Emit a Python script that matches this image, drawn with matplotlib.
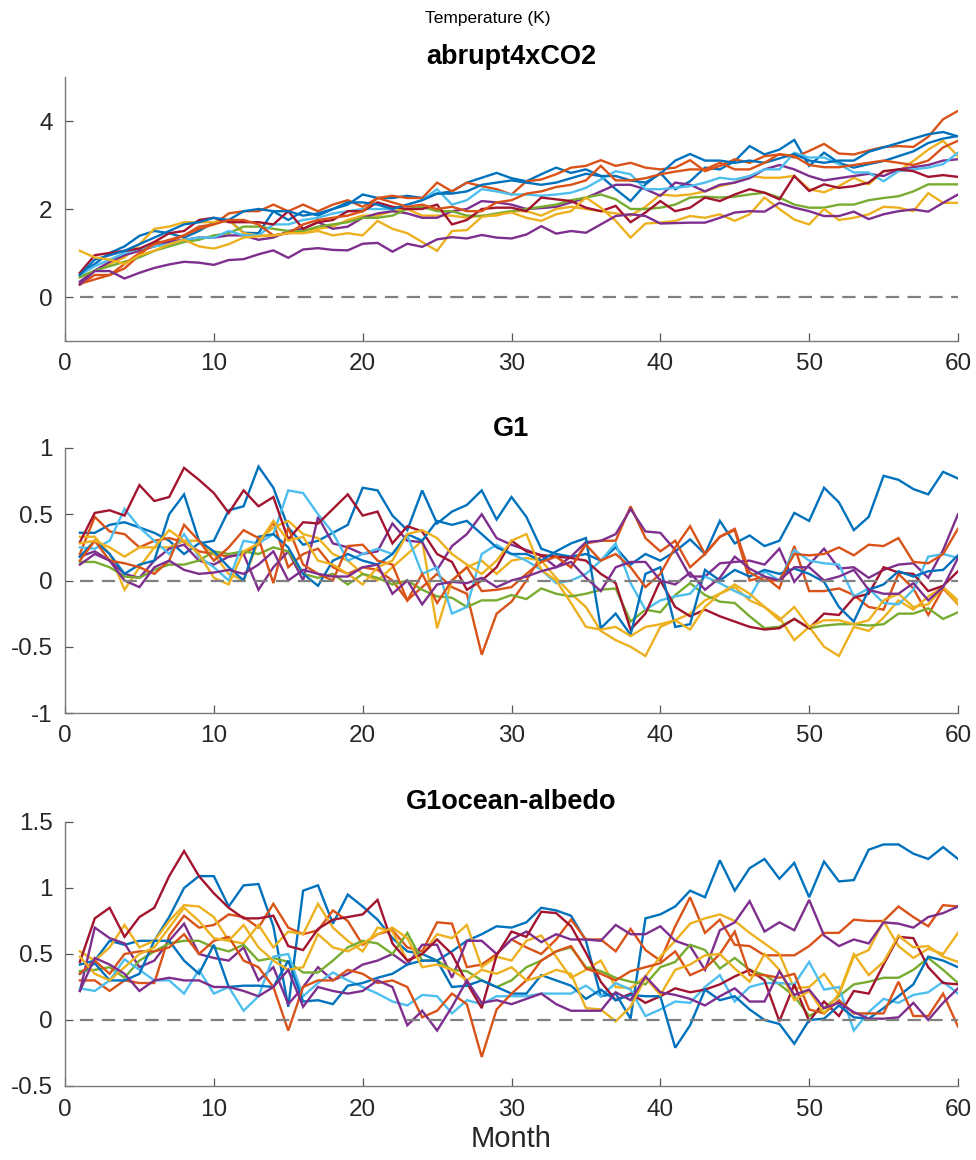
import numpy as np
import matplotlib
matplotlib.use('Agg')
import matplotlib.pyplot as plt

plt.rcParams['font.family'] = ['Liberation Sans', 'DejaVu Sans']

months = np.arange(1, 61)

# MATLAB default colour order (11 models -> cycles once)
colors = ['#0072BD', '#D95319', '#EDB120', '#7E2F8E', '#77AC30', '#4DBEEE',
          '#A2142F', '#0072BD', '#D95319', '#EDB120', '#7E2F8E']

# ---- abrupt4xCO2 ----
a4x_blue1 = [0.51, 0.75, 1.0, 1.15, 1.39, 1.5, 1.45, 1.35, 1.5, 1.7,
             1.75, 1.46, 1.45, 1.95, 1.75, 1.95, 1.85, 2.0, 2.1, 2.33,
             2.25, 2.25, 2.3, 2.25, 2.35, 2.4, 2.6, 2.71, 2.82, 2.7,
             2.63, 2.79, 2.94, 2.82, 2.9, 2.75, 2.45, 2.18, 2.56, 2.82,
             2.45, 2.63, 2.94, 2.9, 3.09, 3.43, 3.24, 3.35, 3.57, 2.98,
             3.28, 3.05, 2.94, 3.02, 3.09, 3.2, 3.31, 3.5, 3.6, 3.66]
a4x_orange1 = [0.3, 0.4, 0.5, 0.65, 0.95, 1.25, 1.25, 1.4, 1.6, 1.65,
               1.9, 1.95, 1.95, 2.1, 1.95, 2.1, 1.95, 2.1, 2.2, 2.05,
               2.25, 2.3, 2.25, 2.25, 2.6, 2.4, 2.6, 2.52, 2.45, 2.33,
               2.63, 2.67, 2.79, 2.94, 2.98, 3.11, 2.98, 3.05, 2.94, 2.9,
               2.94, 3.11, 2.86, 2.98, 3.13, 3.05, 3.2, 3.24, 3.17, 3.32,
               3.48, 3.26, 3.24, 3.33, 3.41, 3.43, 3.41, 3.64, 4.04, 4.23]
a4x_yellow1 = [0.45, 0.6, 0.75, 0.9, 1.2, 1.55, 1.6, 1.7, 1.7, 1.7,
               1.75, 1.45, 1.4, 1.4, 1.45, 1.5, 1.55, 1.6, 1.75, 1.85,
               1.85, 1.95, 2.0, 1.85, 1.85, 1.85, 1.8, 1.85, 1.85, 1.95,
               1.95, 1.85, 2.0, 2.05, 2.0, 1.95, 1.9, 1.85, 2.05, 2.33,
               2.3, 2.33, 2.4, 2.52, 2.6, 2.75, 2.71, 2.71, 2.75, 2.45,
               2.38, 2.52, 2.71, 2.56, 2.86, 2.86, 3.09, 3.35, 3.55, 3.2]
a4x_purple1 = [0.35, 0.6, 0.8, 0.95, 1.05, 1.15, 1.25, 1.3, 1.35, 1.35,
               1.4, 1.4, 1.3, 1.35, 1.5, 1.55, 1.7, 1.55, 1.6, 1.8,
               1.9, 1.95, 1.9, 1.8, 1.8, 1.95, 2.0, 2.18, 2.15, 2.1,
               2.0, 2.02, 2.05, 2.15, 2.25, 2.4, 2.55, 2.55, 2.45, 2.3,
               2.6, 2.55, 2.4, 2.55, 2.6, 2.7, 2.9, 3.0, 2.9, 2.75,
               2.65, 2.7, 2.75, 2.8, 2.75, 2.9, 2.95, 3.0, 3.1, 3.13]
a4x_green = [0.45, 0.6, 0.7, 0.8, 0.9, 1.05, 1.15, 1.25, 1.3, 1.4,
             1.45, 1.6, 1.6, 1.55, 1.5, 1.5, 1.6, 1.65, 1.7, 1.8,
             1.8, 1.85, 2.0, 2.05, 1.95, 1.95, 1.85, 1.84, 1.9, 1.95,
             2.0, 2.05, 2.1, 2.2, 2.26, 2.33, 2.22, 2.0, 2.0, 2.03,
             2.1, 2.26, 2.28, 2.26, 2.28, 2.33, 2.37, 2.26, 2.1, 2.03,
             2.03, 2.1, 2.1, 2.2, 2.25, 2.29, 2.4, 2.56, 2.56, 2.56]
a4x_lightblue = [0.5, 0.7, 0.85, 1.0, 1.1, 1.15, 1.2, 1.3, 1.35, 1.35,
                 1.5, 1.4, 1.4, 1.65, 1.65, 1.75, 1.8, 1.9, 1.95, 2.0,
                 2.0, 2.0, 2.1, 2.2, 2.45, 2.1, 2.2, 2.45, 2.4, 2.33,
                 2.33, 2.3, 2.33, 2.37, 2.48, 2.67, 2.86, 2.79, 2.45, 2.45,
                 2.48, 2.52, 2.6, 2.71, 2.67, 2.75, 2.9, 2.9, 3.28, 3.17,
                 3.17, 3.02, 2.83, 2.83, 2.63, 2.86, 2.9, 2.94, 3.02, 3.28]
a4x_darkred = [0.55, 0.95, 1.0, 1.05, 1.1, 1.25, 1.45, 1.5, 1.75, 1.8,
               1.7, 1.7, 1.7, 1.65, 1.95, 1.55, 1.7, 1.75, 1.95, 1.95,
               2.15, 2.05, 2.0, 2.0, 2.1, 1.65, 1.75, 2.0, 2.03, 2.03,
               1.95, 2.26, 2.22, 2.18, 2.03, 1.95, 2.07, 1.7, 1.92, 2.18,
               1.95, 2.03, 2.26, 2.18, 2.33, 2.45, 2.37, 2.22, 2.75, 2.41,
               2.56, 2.48, 2.52, 2.6, 2.86, 2.9, 2.86, 2.73, 2.77, 2.73]
a4x_blue2 = [0.5, 0.85, 0.95, 1.05, 1.2, 1.35, 1.5, 1.65, 1.7, 1.8,
             1.75, 1.95, 2.0, 1.95, 1.95, 1.85, 1.9, 2.0, 2.15, 2.15,
             2.1, 2.0, 2.1, 2.2, 2.35, 2.35, 2.4, 2.55, 2.6, 2.65,
             2.6, 2.55, 2.6, 2.7, 2.8, 2.75, 2.75, 2.65, 2.6, 2.8,
             3.1, 3.25, 3.1, 3.1, 3.05, 3.1, 3.05, 3.15, 3.25, 3.1,
             3.05, 3.1, 3.1, 3.3, 3.4, 3.5, 3.6, 3.7, 3.75, 3.65]
a4x_orange2 = [0.28, 0.5, 0.5, 0.75, 1.0, 1.2, 1.3, 1.4, 1.55, 1.65,
               1.75, 1.75, 1.65, 1.4, 1.45, 1.65, 1.75, 1.8, 1.85, 1.95,
               2.25, 2.15, 2.05, 2.1, 2.0, 2.05, 1.95, 1.95, 2.15, 2.2,
               2.35, 2.4, 2.5, 2.55, 2.65, 2.98, 2.65, 2.65, 2.7, 2.79,
               2.85, 2.9, 2.9, 3.05, 2.9, 2.9, 3.05, 3.25, 3.2, 3.0,
               2.95, 2.95, 3.0, 3.05, 3.1, 3.05, 3.0, 3.1, 3.4, 3.55]
a4x_yellow2 = [1.05, 0.9, 0.85, 0.75, 0.95, 1.05, 1.2, 1.3, 1.15, 1.1,
               1.2, 1.35, 1.38, 1.4, 1.45, 1.45, 1.5, 1.4, 1.45, 1.4,
               1.73, 1.55, 1.45, 1.25, 1.05, 1.5, 1.52, 1.82, 1.87, 1.92,
               1.8, 1.73, 1.88, 1.95, 2.26, 2.03, 1.73, 1.35, 1.67, 1.69,
               1.73, 1.84, 1.8, 1.88, 1.73, 1.88, 2.26, 2.0, 1.76, 1.65,
               2.0, 1.75, 1.8, 1.88, 2.05, 2.03, 1.95, 2.36, 2.14, 2.14]
a4x_purple2 = [0.29, 0.59, 0.59, 0.42, 0.55, 0.66, 0.74, 0.8, 0.78, 0.73,
               0.84, 0.86, 0.97, 1.06, 0.89, 1.08, 1.11, 1.07, 1.06, 1.21,
               1.23, 1.03, 1.21, 1.14, 1.31, 1.36, 1.33, 1.41, 1.35, 1.33,
               1.42, 1.61, 1.44, 1.5, 1.46, 1.65, 1.84, 1.88, 1.84, 1.67,
               1.68, 1.69, 1.69, 1.8, 1.92, 1.95, 1.94, 2.14, 2.03, 1.95,
               1.84, 1.84, 1.94, 1.77, 1.88, 1.95, 1.99, 1.94, 2.14, 2.33]

# ---- G1 ----
g1_blue1 = [0.36, 0.36, 0.42, 0.44, 0.4, 0.36, 0.3, 0.2, 0.28, 0.3,
            0.53, 0.56, 0.86, 0.7, 0.4, 0.27, 0.3, 0.36, 0.42, 0.7,
            0.68, 0.49, 0.38, 0.68, 0.43, 0.52, 0.57, 0.68, 0.46, 0.63,
            0.48, 0.24, 0.2, 0.18, 0.2, 0.15, 0.25, 0.12, 0.2, 0.15,
            0.22, 0.31, 0.2, 0.45, 0.28, 0.34, 0.26, 0.3, 0.51, 0.45,
            0.7, 0.59, 0.38, 0.48, 0.79, 0.76, 0.69, 0.65, 0.82, 0.77]
g1_orange1 = [0.2, 0.48, 0.37, 0.35, 0.25, 0.3, 0.32, 0.29, 0.22, 0.2,
              0.18, 0.2, 0.27, 0.44, 0.1, 0.2, 0.24, 0.1, 0.05, 0.1,
              0.08, 0.0, -0.15, -0.05, 0.05, -0.05, -0.1, -0.56, -0.25, -0.16,
              0.0, 0.19, 0.18, 0.1, 0.28, 0.3, 0.3, 0.56, 0.32, 0.22,
              0.3, 0.1, 0.2, 0.33, 0.38, 0.0, 0.03, -0.06, 0.26, -0.08,
              -0.08, -0.06, -0.11, -0.2, -0.22, 0.05, -0.06, -0.26, -0.06, -0.18]
g1_yellow1 = [0.33, 0.33, 0.2, -0.07, 0.1, 0.25, 0.25, 0.3, 0.3, 0.2,
              0.05, 0.0, 0.3, 0.4, 0.45, 0.35, 0.32, 0.2, 0.15, 0.05,
              0.0, 0.1, 0.2, 0.3, -0.36, 0.0, 0.1, 0.15, 0.05, 0.15,
              0.17, 0.15, 0.02, -0.1, -0.2, -0.38, -0.45, -0.5, -0.57, -0.35,
              -0.3, -0.25, -0.15, -0.1, -0.05, -0.15, -0.2, -0.28, -0.45, -0.35,
              -0.5, -0.57, -0.35, -0.38, -0.28, -0.15, -0.22, -0.12, -0.05, -0.18]
g1_purple1 = [0.18, 0.22, 0.15, 0.05, 0.02, 0.15, 0.24, 0.27, 0.15, 0.12,
              0.18, 0.2, -0.07, 0.1, 0.22, 0.0, 0.48, 0.28, 0.25, 0.2,
              0.22, 0.43, 0.3, 0.29, 0.08, 0.26, 0.35, 0.5, 0.32, 0.27,
              0.23, 0.19, 0.1, 0.18, 0.29, 0.3, 0.35, 0.54, 0.37, 0.36,
              0.23, 0.03, 0.03, 0.13, 0.14, 0.15, 0.12, 0.24, -0.01, 0.12,
              0.24, 0.09, 0.1, 0.02, 0.08, 0.12, 0.13, 0.02, 0.23, 0.5]
g1_green = [0.14, 0.14, 0.1, 0.03, 0.02, 0.08, 0.12, 0.12, 0.15, 0.22,
            0.2, 0.22, 0.2, 0.25, 0.22, 0.05, 0.02, 0.05, -0.03, 0.05,
            0.02, -0.03, 0.0, -0.07, -0.12, -0.13, -0.2, -0.15, -0.15, -0.11,
            -0.14, -0.06, -0.1, -0.12, -0.1, -0.07, -0.06, -0.31, -0.22, -0.24,
            -0.11, -0.02, -0.11, -0.16, -0.17, -0.27, -0.36, -0.35, -0.29, -0.36,
            -0.34, -0.33, -0.33, -0.34, -0.33, -0.25, -0.25, -0.21, -0.29, -0.24]
g1_lightblue = [0.25, 0.24, 0.3, 0.54, 0.4, 0.3, 0.2, 0.35, 0.18, 0.1,
                0.0, 0.3, 0.28, 0.35, 0.68, 0.66, 0.5, 0.36, 0.15, 0.2,
                0.24, 0.2, 0.34, 0.05, 0.1, -0.25, -0.2, 0.2, 0.27, 0.2,
                0.15, 0.08, -0.02, 0.0, 0.05, 0.15, 0.28, -0.02, -0.22, -0.15,
                -0.12, -0.1, 0.03, -0.02, -0.08, -0.13, 0.07, 0.0, 0.23, 0.15,
                0.13, 0.12, -0.12, -0.06, -0.17, -0.18, -0.07, 0.18, 0.2, 0.17]
g1_darkred = [0.29, 0.51, 0.53, 0.49, 0.72, 0.6, 0.63, 0.85, 0.76, 0.66,
              0.51, 0.68, 0.56, 0.63, 0.31, 0.44, 0.43, 0.54, 0.65, 0.49,
              0.52, 0.28, 0.41, 0.37, 0.2, 0.14, -0.07, 0.0, 0.1, 0.3,
              0.22, 0.19, 0.18, 0.17, 0.15, 0.05, -0.02, -0.37, -0.25, 0.0,
              -0.2, -0.27, -0.22, -0.27, -0.31, -0.35, -0.37, -0.36, -0.29, -0.36,
              -0.25, -0.26, -0.13, -0.1, 0.1, 0.06, 0.05, -0.08, -0.04, 0.07]
g1_blue2 = [0.18, 0.3, 0.2, 0.05, 0.12, 0.15, 0.5, 0.65, 0.3, 0.22,
            0.1, 0.0, 0.33, 0.35, 0.25, 0.05, -0.04, 0.15, 0.2, 0.15,
            0.12, 0.2, 0.35, 0.3, 0.45, 0.42, 0.45, 0.35, 0.25, 0.2,
            0.2, 0.15, 0.22, 0.28, 0.32, -0.36, -0.25, -0.41, 0.05, 0.1,
            -0.35, -0.33, 0.08, 0.0, 0.08, 0.03, 0.08, 0.05, 0.09, 0.05,
            -0.01, -0.2, -0.31, -0.07, -0.03, 0.07, 0.03, 0.07, 0.08, 0.19]
g1_orange2 = [0.15, 0.3, 0.15, 0.13, 0.1, 0.05, 0.15, 0.42, 0.3, 0.15,
              0.25, 0.38, 0.32, -0.02, 0.4, 0.12, 0.05, 0.0, 0.26, 0.27,
              0.15, 0.12, -0.15, 0.05, -0.17, 0.0, 0.1, -0.08, -0.07, -0.05,
              0.05, 0.14, 0.18, 0.1, 0.27, 0.15, 0.2, 0.1, -0.05, 0.05,
              0.25, 0.41, 0.2, 0.33, 0.39, 0.06, 0.0, 0.0, 0.2, 0.19,
              0.2, 0.25, 0.19, 0.27, 0.26, 0.32, 0.14, 0.13, 0.2, 0.39]
g1_yellow2 = [0.28, 0.3, 0.25, 0.18, 0.25, 0.25, 0.38, 0.3, 0.2, 0.02,
              -0.03, 0.22, 0.28, 0.45, 0.3, 0.33, 0.15, 0.12, 0.05, -0.03,
              0.1, 0.15, 0.35, 0.38, 0.32, 0.2, 0.12, 0.05, 0.15, 0.3,
              0.35, 0.08, 0.0, -0.17, -0.35, -0.37, -0.35, -0.42, -0.35, -0.33,
              -0.3, -0.37, -0.2, -0.1, -0.03, -0.1, -0.2, -0.3, -0.2, -0.35,
              -0.3, -0.3, -0.33, -0.3, -0.15, -0.1, -0.2, -0.18, -0.05, -0.15]
g1_purple2 = [0.12, 0.2, 0.15, 0.0, -0.05, 0.1, 0.15, 0.08, 0.05, 0.06,
              0.08, 0.05, 0.12, 0.22, 0.0, 0.08, 0.05, 0.03, 0.03, 0.1,
              0.12, -0.1, 0.0, -0.18, -0.03, -0.01, -0.02, 0.02, -0.05, 0.0,
              0.03, 0.07, 0.1, 0.14, 0.02, -0.08, 0.1, 0.14, 0.14, 0.0,
              -0.03, 0.06, -0.07, 0.02, 0.18, 0.09, 0.03, 0.0, 0.1, 0.1,
              0.0, 0.03, 0.08, -0.07, -0.1, -0.1, -0.02, -0.15, -0.05, 0.17]

# ---- G1ocean-albedo ----
oa_blue1 = [0.42, 0.45, 0.6, 0.57, 0.6, 0.6, 0.78, 1.0, 1.09, 1.09,
            0.86, 1.02, 1.03, 0.71, 0.1, 0.98, 1.02, 0.73, 0.95, 0.86,
            0.76, 0.62, 0.52, 0.5, 0.45, 0.52, 0.6, 0.65, 0.71, 0.7,
            0.74, 0.85, 0.83, 0.79, 0.6, 0.18, 0.2, 0.01, 0.77, 0.8,
            0.86, 0.98, 0.93, 1.21, 0.98, 1.15, 1.22, 1.07, 1.19, 0.93,
            1.2, 1.05, 1.06, 1.29, 1.33, 1.33, 1.26, 1.22, 1.31, 1.22]
oa_orange1 = [0.3, 0.3, 0.22, 0.3, 0.28, 0.28, 0.64, 0.79, 0.7, 0.72,
              0.8, 0.78, 0.7, 0.88, 0.7, 0.65, 0.68, 0.83, 0.75, 0.57,
              0.65, 0.68, 0.55, 0.52, 0.74, 0.73, 0.4, 0.42, 0.5, 0.61,
              0.55, 0.5, 0.61, 0.76, 0.61, 0.61, 0.52, 0.69, 0.53, 0.45,
              0.71, 0.93, 0.66, 0.76, 0.57, 0.56, 0.49, 0.49, 0.49, 0.56,
              0.66, 0.66, 0.76, 0.75, 0.75, 0.86, 0.78, 0.71, 0.87, 0.86]
oa_yellow1 = [0.52, 0.45, 0.55, 0.72, 0.55, 0.6, 0.75, 0.87, 0.86, 0.78,
              0.6, 0.58, 0.72, 0.55, 0.67, 0.65, 0.88, 0.7, 0.6, 0.52,
              0.7, 0.67, 0.45, 0.5, 0.65, 0.62, 0.72, 0.4, 0.48, 0.45,
              0.6, 0.64, 0.48, 0.32, 0.38, 0.45, 0.25, 0.24, 0.33, 0.48,
              0.6, 0.73, 0.77, 0.8, 0.75, 0.66, 0.58, 0.5, 0.24, 0.25,
              0.35, 0.19, 0.48, 0.53, 0.75, 0.56, 0.47, 0.54, 0.5, 0.66]
oa_purple1 = [0.22, 0.7, 0.62, 0.58, 0.4, 0.45, 0.6, 0.73, 0.5, 0.47,
              0.45, 0.55, 0.3, 0.4, 0.12, 0.25, 0.4, 0.3, 0.35, 0.42,
              0.45, 0.5, 0.42, 0.57, 0.57, 0.32, 0.6, 0.6, 0.5, 0.61,
              0.67, 0.59, 0.65, 0.61, 0.61, 0.6, 0.72, 0.65, 0.65, 0.71,
              0.6, 0.56, 0.38, 0.68, 0.74, 0.9, 0.67, 0.74, 0.68, 0.91,
              0.64, 0.56, 0.61, 0.58, 0.74, 0.73, 0.7, 0.78, 0.81, 0.86]
oa_green = [0.37, 0.38, 0.4, 0.32, 0.45, 0.52, 0.58, 0.6, 0.6, 0.55,
            0.52, 0.57, 0.45, 0.47, 0.44, 0.36, 0.36, 0.45, 0.55, 0.6,
            0.58, 0.5, 0.66, 0.45, 0.45, 0.38, 0.37, 0.3, 0.25, 0.3,
            0.4, 0.45, 0.52, 0.55, 0.4, 0.37, 0.32, 0.29, 0.27, 0.4,
            0.44, 0.57, 0.53, 0.39, 0.47, 0.38, 0.34, 0.27, 0.18, 0.03,
            0.09, 0.18, 0.27, 0.29, 0.32, 0.32, 0.38, 0.47, 0.38, 0.28]
oa_lightblue = [0.24, 0.22, 0.3, 0.46, 0.38, 0.3, 0.3, 0.2, 0.38, 0.2,
                0.25, 0.07, 0.18, 0.48, 0.5, 0.18, 0.28, 0.36, 0.3, 0.25,
                0.2, 0.14, 0.11, 0.19, 0.18, 0.05, 0.15, 0.12, 0.18, 0.18,
                0.18, 0.2, 0.2, 0.2, 0.26, 0.18, 0.28, 0.23, 0.03, 0.08,
                0.14, 0.13, 0.25, 0.34, 0.14, 0.25, 0.28, 0.28, 0.27, 0.44,
                0.23, 0.25, -0.08, 0.06, 0.16, 0.13, 0.19, 0.21, 0.29, 0.2]
oa_darkred = [0.44, 0.77, 0.85, 0.63, 0.78, 0.85, 1.09, 1.28, 1.09, 0.96,
              0.85, 0.77, 0.77, 0.79, 0.56, 0.53, 0.69, 0.76, 0.78, 0.8,
              0.91, 0.58, 0.45, 0.5, 0.61, 0.5, 0.28, 0.09, 0.49, 0.67,
              0.63, 0.82, 0.81, 0.71, 0.51, 0.29, 0.15, 0.2, 0.13, 0.18,
              0.24, 0.21, 0.23, 0.27, 0.33, 0.38, 0.3, -0.01, 0.27, -0.01,
              0.14, 0.03, 0.22, 0.2, 0.42, 0.63, 0.62, 0.4, 0.28, 0.27]
oa_blue2 = [0.35, 0.43, 0.3, 0.3, 0.35, 0.6, 0.6, 0.45, 0.35, 0.57,
            0.25, 0.26, 0.26, 0.25, 0.45, 0.14, 0.15, 0.12, 0.26, 0.28,
            0.32, 0.35, 0.42, 0.45, 0.45, 0.25, 0.26, 0.3, 0.25, 0.2,
            0.2, 0.34, 0.3, 0.26, 0.16, 0.23, 0.15, 0.19, 0.18, 0.18,
            -0.21, -0.04, 0.23, 0.15, 0.18, 0.08, 0.0, -0.03, -0.18, 0.0,
            0.01, 0.11, 0.02, 0.01, 0.09, 0.18, 0.27, 0.48, 0.45, 0.4]
oa_orange2 = [0.35, 0.45, 0.35, 0.5, 0.52, 0.52, 0.55, 0.65, 0.5, 0.6,
              0.63, 0.45, 0.4, 0.25, -0.08, 0.25, 0.3, 0.3, 0.38, 0.35,
              0.28, 0.3, 0.25, 0.02, 0.07, 0.2, 0.12, -0.28, 0.08, 0.2,
              0.3, 0.45, 0.52, 0.56, 0.39, 0.35, 0.3, 0.37, 0.4, 0.43,
              0.52, 0.34, 0.39, 0.5, 0.67, 0.34, 0.34, 0.32, 0.35, 0.08,
              0.05, 0.15, 0.05, 0.05, 0.05, 0.29, 0.03, 0.03, 0.2, -0.05]
oa_yellow2 = [0.48, 0.35, 0.3, 0.4, 0.5, 0.55, 0.7, 0.85, 0.75, 0.62,
              0.6, 0.72, 0.55, 0.45, 0.38, 0.4, 0.65, 0.55, 0.52, 0.58,
              0.65, 0.7, 0.62, 0.4, 0.42, 0.38, 0.3, 0.38, 0.35, 0.4,
              0.3, 0.33, 0.38, 0.35, 0.09, 0.08, -0.01, 0.1, 0.32, 0.19,
              0.38, 0.42, 0.49, 0.5, 0.39, 0.29, 0.5, 0.38, 0.15, 0.22,
              0.05, 0.2, 0.5, 0.34, 0.44, 0.64, 0.55, 0.56, 0.48, 0.44]
oa_purple2 = [0.22, 0.47, 0.42, 0.35, 0.22, 0.3, 0.32, 0.3, 0.3, 0.25,
              0.25, 0.22, 0.18, 0.25, 0.38, 0.1, 0.25, 0.22, 0.2, 0.22,
              0.3, 0.25, -0.04, 0.07, -0.08, 0.1, 0.3, 0.13, 0.15, 0.12,
              0.16, 0.2, 0.12, 0.07, 0.07, 0.07, 0.21, 0.15, 0.33, 0.21,
              0.19, 0.16, 0.11, 0.18, 0.24, 0.14, 0.14, 0.37, 0.19, 0.23,
              0.09, 0.13, 0.06, 0.01, 0.01, 0.02, 0.13, 0.0, 0.13, 0.24]

panels = [
    ('abrupt4xCO2', [a4x_blue1, a4x_orange1, a4x_yellow1, a4x_purple1, a4x_green,
                     a4x_lightblue, a4x_darkred, a4x_blue2, a4x_orange2,
                     a4x_yellow2, a4x_purple2], (-1, 5), [0, 2, 4], ['0', '2', '4']),
    ('G1', [g1_blue1, g1_orange1, g1_yellow1, g1_purple1, g1_green, g1_lightblue,
            g1_darkred, g1_blue2, g1_orange2, g1_yellow2, g1_purple2],
     (-1, 1), [-1, -0.5, 0, 0.5, 1], ['-1', '-0.5', '0', '0.5', '1']),
    ('G1ocean-albedo', [oa_blue1, oa_orange1, oa_yellow1, oa_purple1, oa_green,
                        oa_lightblue, oa_darkred, oa_blue2, oa_orange2,
                        oa_yellow2, oa_purple2],
     (-0.5, 1.5), [-0.5, 0, 0.5, 1, 1.5], ['-0.5', '0', '0.5', '1', '1.5']),
]

W, H = 976, 1160
fig = plt.figure(figsize=(W / 100, H / 100), dpi=100)

# axes boxes in pixels: (top, bottom), plus title centre y
boxes = [(77, 341, 57), (448, 713, 429), (822, 1086, 802)]
left_px, right_px = 65, 958

for (title, series, ylim, yt, ytl), (top, bot, ty) in zip(panels, boxes):
    ax = fig.add_axes([left_px / W, 1 - bot / H, (right_px - left_px) / W, (bot - top) / H])
    for vals, c in zip(series, colors):
        assert len(vals) == 60, title
        ax.plot(months, vals, color=c, lw=1.7, solid_joinstyle='miter')
    ax.plot(months, np.zeros_like(months), color='#808080', lw=1.6,
            linestyle=(0, (6, 3.8)), zorder=5)
    ax.set_xlim(0, 60)
    ax.set_ylim(*ylim)
    ax.set_xticks(range(0, 61, 10))
    ax.set_yticks(yt)
    ax.set_yticklabels(ytl)
    for s in ['top', 'right']:
        ax.spines[s].set_visible(False)
    for s in ['left', 'bottom']:
        ax.spines[s].set_color('#7a7a7a')
        ax.spines[s].set_linewidth(1.0)
    ax.tick_params(direction='in', length=5.5, width=0.9, color='#555555',
                   labelsize=17.5, labelcolor='#262626', pad=9)
    fig.text(0.5 * (left_px + right_px) / W, 1 - ty / H, title, ha='center',
             va='center', fontsize=19.5, fontweight='bold')
    if title == 'G1ocean-albedo':
        ax.set_xlabel('Month', fontsize=21, color='#262626', labelpad=3)

fig.text(0.5, 1 - 18 / H, 'Temperature (K)', ha='center', va='center', fontsize=12.5)

fig.savefig('out.png', dpi=100)
